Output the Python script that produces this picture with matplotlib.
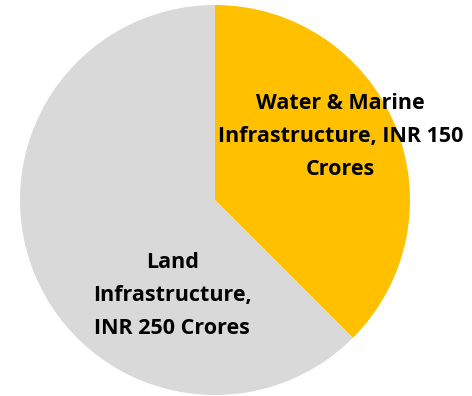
import matplotlib
matplotlib.use("Agg")
import matplotlib.pyplot as plt

labels = ["Water & Marine\nInfrastructure, INR 150\nCrores", "Land\nInfrastructure,\nINR 250 Crores"]
values = [150, 250]
colors = ["#FFC000", "#D9D9D9"]
label_pos = [(0.645, 0.325), (-0.22, -0.49)]

fig = plt.figure(figsize=(4.72, 3.96), dpi=100)
ax = fig.add_axes([20 / 472, 1 / 396, 390 / 472, 390 / 396])
ax.pie(values, colors=colors, startangle=90, counterclock=False, radius=1,
       wedgeprops=dict(linewidth=0))
ax.set_xlim(-1, 1)
ax.set_ylim(-1, 1)
ax.set_aspect("equal")
ax.axis("off")

for lab, (x, y) in zip(labels, label_pos):
    ax.text(x, y, lab, ha="center", va="center", fontsize=15.5, fontweight="bold",
            family="Open Sans", linespacing=1.75, color="#000000")

fig.savefig("out.png", dpi=100)
